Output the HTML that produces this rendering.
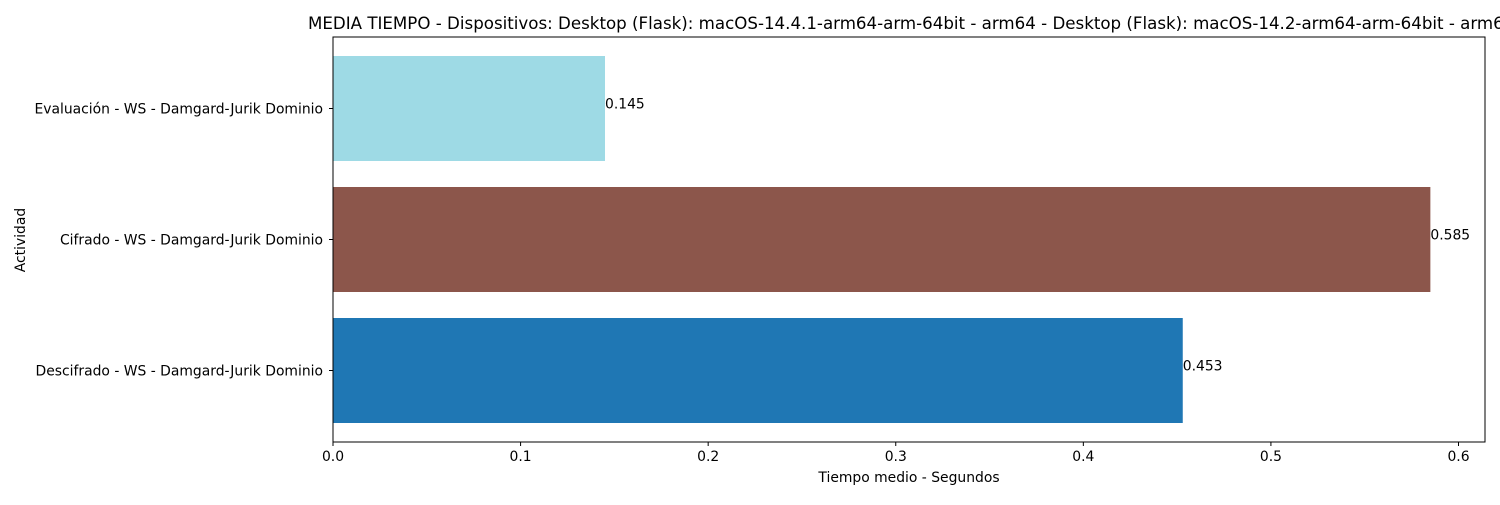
<!DOCTYPE html>
<html><head><meta charset="utf-8"><style>
html,body{margin:0;padding:0;background:#fff;overflow:hidden;}
svg text{font-family:"DejaVu Sans","Liberation Sans",sans-serif;fill:#000;}
</style></head><body>
<svg id="chart" width="1500" height="500" viewBox="0 0 1500 500" xmlns="http://www.w3.org/2000/svg">
<text x="308" y="29" font-size="16.67">MEDIA TIEMPO - Dispositivos: Desktop (Flask): macOS-14.4.1-arm64-arm-64bit - arm64 - Desktop (Flask): macOS-14.2-arm64-arm-64bit - arm64</text>
<g id="plot"></g>
<text x="909" y="482" font-size="13.9" text-anchor="middle">Tiempo medio - Segundos</text>
<text transform="translate(25,240) rotate(-90)" font-size="13.9" text-anchor="middle">Actividad</text>
</svg>
<script>
const categories = ["Evaluación - WS - Damgard-Jurik Dominio","Cifrado - WS - Damgard-Jurik Dominio","Descifrado - WS - Damgard-Jurik Dominio"];
const values = [0.145, 0.585, 0.453];
const labels = ["0.145","0.585","0.453"];
const colors = ["#9edae5","#8c564b","#1f77b4"];
const xTicks = [0,0.1,0.2,0.3,0.4,0.5,0.6];
const xTickLabels = ["0.0","0.1","0.2","0.3","0.4","0.5","0.6"];

const L=333,R=1485,T=37,B=442;
const x = v => L + v*(1458.5-L)/0.6;
const band = 131, first = 108.5;
const y = i => first + i*band;
const bh = 105;
const NS="http://www.w3.org/2000/svg";
const g=document.getElementById('plot');
function mk(t,a){const e=document.createElementNS(NS,t);for(const k in a)e.setAttribute(k,a[k]);g.appendChild(e);return e;}
values.forEach((v,i)=>{
  const r=mk('rect',{x:L,y:y(i)-bh/2,width:x(v)-L,height:bh,fill:colors[i]});
  
  
  const t=mk('text',{x:x(v),y:y(i),'font-size':13.9});
  t.textContent=labels[i];
  
  
  const c=mk('text',{x:L-10,y:y(i)+5,'font-size':13.9,'text-anchor':'end'});
  c.textContent=categories[i];
  
  
  const tk=mk('line',{x1:L-4,x2:L,y1:y(i),y2:y(i),stroke:'#000','stroke-width':1});
  
  
});
xTicks.forEach((v,i)=>{
  const tk=mk('line',{x1:x(v),x2:x(v),y1:B,y2:B+4,stroke:'#000','stroke-width':1});
  
  
  const t=mk('text',{x:x(v),y:B+19,'font-size':13.9,'text-anchor':'middle'});
  t.textContent=xTickLabels[i];
  
  
});
const fr=mk('rect',{x:L,y:T,width:R-L,height:B-T,fill:'none',stroke:'#000','stroke-width':1});


</script>
</body></html>
